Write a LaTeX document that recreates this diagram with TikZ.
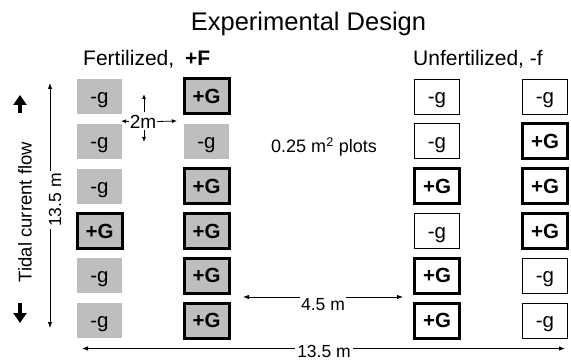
\documentclass[tikz,border=0pt]{standalone}
\usepackage{fontspec}
\setmainfont{Liberation Sans}
\usetikzlibrary{arrows.meta}
\definecolor{plotgray}{RGB}{190,190,190}
\begin{document}
\begin{tikzpicture}[x=1pt,y=-1pt,
  plotbox/.style={minimum width=45pt,minimum height=35pt,inner sep=0pt,text height=14.5pt,text depth=0pt,font=\fontsize{20.5}{24}\selectfont},
  gneg/.style={plotbox,fill=plotgray},
  gpos/.style={plotbox,fill=plotgray,draw,line width=3pt,font=\fontsize{20.5}{24}\selectfont\bfseries},
  wneg/.style={plotbox,draw,line width=0.9pt},
  wpos/.style={plotbox,draw,line width=3pt,font=\fontsize{20.5}{24}\selectfont\bfseries},
  dimarrow/.style={line width=0.8pt,{Latex[length=6pt,width=4.5pt]}-{Latex[length=6pt,width=4.5pt]}},
  onearrow/.style={line width=0.8pt,-{Latex[length=5pt,width=4pt]}},
  flowarrow/.style={line width=3.5pt,-{Triangle[length=10pt,width=13pt]}},
  lbl/.style={font=\fontsize{19}{22}\selectfont,inner sep=1pt},
  dimlbl/.style={font=\fontsize{17.5}{20}\selectfont,fill=white,inner sep=2pt}
]
\useasboundingbox (0,0) rectangle (571,361);
% titles
\node[anchor=base,font=\fontsize{25.5}{30}\selectfont] (title) at (308.5,31) {Experimental Design};
\node[anchor=base west,inner sep=0pt,font=\fontsize{21}{24}\selectfont] (fert) at (83,66) {Fertilized,};
\node[anchor=base west,inner sep=0pt,font=\fontsize{21}{24}\selectfont\bfseries] (fertF) at (185,66) {+F};
\node[anchor=base west,inner sep=0pt,font=\fontsize{21}{24}\selectfont] (unfert) at (413,66) {Unfertilized, -f};
% column 1
\node[gneg] (a1) at (99.5,96.5) {-g};
\node[gneg] (a2) at (99.5,141.3) {-g};
\node[gneg] (a3) at (99.5,186.1) {-g};
\node[gpos] (a4) at (99.5,230.9) {+G};
\node[gneg] (a5) at (99.5,275.7) {-g};
\node[gneg] (a6) at (99.5,320.5) {-g};
% column 2
\node[gpos] (b1) at (206.5,96.5) {+G};
\node[gneg] (b2) at (206.5,141.3) {-g};
\node[gpos] (b3) at (206.5,186.1) {+G};
\node[gpos] (b4) at (206.5,230.9) {+G};
\node[gpos] (b5) at (206.5,275.7) {+G};
\node[gpos] (b6) at (206.5,320.5) {+G};
% column 3
\node[wneg] (c1) at (437,96.5) {-g};
\node[wneg] (c2) at (437,141.3) {-g};
\node[wpos] (c3) at (437,186.1) {+G};
\node[wneg] (c4) at (437,230.9) {-g};
\node[wpos] (c5) at (437,275.7) {+G};
\node[wpos] (c6) at (437,320.5) {+G};
% column 4
\node[wneg] (d1) at (545,96.5) {-g};
\node[wpos] (d2) at (545,141.3) {+G};
\node[wpos] (d3) at (545,186.1) {+G};
\node[wpos] (d4) at (545,230.9) {+G};
\node[wneg] (d5) at (545,275.7) {-g};
\node[wneg] (d6) at (545,320.5) {-g};
% plot size label
\node[anchor=base,font=\fontsize{18}{21}\selectfont] (plots) at (324,153) {0.25 m\textsuperscript{2} plots};
% 2m spacing cross
\node[lbl,inner sep=0.5pt] (twom) at (143,121.5) {2m};
\coordinate (twomL) at (121,121);
\coordinate (twomR) at (177,121);
\coordinate (twomT) at (144,94);
\coordinate (twomB) at (144,142);
\draw[onearrow] (twom.west) -- (twomL);
\draw[onearrow] (twom.east) -- (twomR);
\draw[onearrow] (144,112) -- (twomT);
\draw[onearrow] (144,130) -- (twomB);
% tidal flow
\node[rotate=90,font=\fontsize{18.5}{21}\selectfont] (tidal) at (25,212) {Tidal current flow};
\coordinate (upS) at (20,113);
\coordinate (upE) at (20,95);
\coordinate (dnS) at (20,303);
\coordinate (dnE) at (20,323);
\draw[flowarrow] (upS) -- (upE);
\draw[flowarrow] (dnS) -- (dnE);
% vertical 13.5 m
\coordinate (vT) at (50,83);
\coordinate (vB) at (50,328);
\draw[dimarrow] (vT) -- (vB);
\node[dimlbl,rotate=90] (vlbl) at (55,200) {13.5 m};
% horizontal 4.5 m
\coordinate (mL) at (243,297);
\coordinate (mR) at (403,297);
\draw[dimarrow] (mL) -- (mR);
\node[dimlbl,inner sep=1.5pt] (mlbl) at (323,305) {4.5 m};
% bottom 13.5 m
\coordinate (hL) at (82,348.5);
\coordinate (hR) at (565,348.5);
\draw[dimarrow] (hL) -- (hR);
\node[dimlbl] (hlbl) at (324,351) {13.5 m};
\end{tikzpicture}
\end{document}
